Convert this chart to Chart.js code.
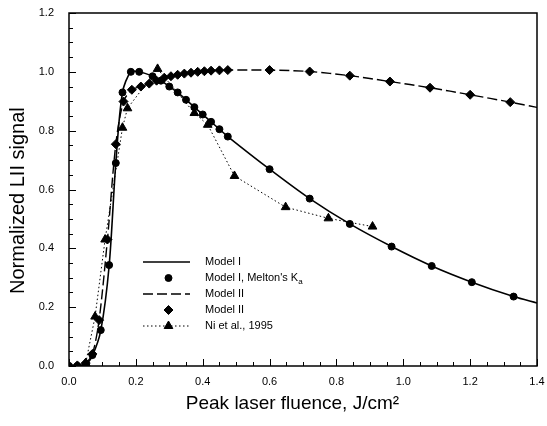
<!DOCTYPE html>
<html>
<head>
<meta charset="utf-8">
<script src="https://cdn.jsdelivr.net/npm/chart.js@4.4.1/dist/chart.umd.min.js"></script>
<style>
  html, body { margin: 0; padding: 0; background: #fff; }
  #wrap { width: 547px; height: 426px; }
</style>
</head>
<body>
<div id="wrap"><canvas id="myChart" width="547" height="426"></canvas></div>
<script>
// Model I (solid line)
const modelILineX = [0, 0.025, 0.05, 0.07, 0.095, 0.12, 0.14, 0.16, 0.185, 0.21, 0.25, 0.275, 0.30, 0.325, 0.35, 0.375, 0.40, 0.425, 0.45, 0.475, 0.60, 0.72, 0.84, 0.965, 1.085, 1.205, 1.33, 1.40];
const modelILineY = [0, 0, 0.005, 0.035, 0.12, 0.34, 0.69, 0.93, 1.0, 1.0, 0.985, 0.97, 0.95, 0.93, 0.905, 0.88, 0.855, 0.83, 0.805, 0.78, 0.669, 0.569, 0.483, 0.406, 0.34, 0.285, 0.236, 0.214];

// Model I, Melton's Ka (circles)
const meltonX = [0, 0.025, 0.05, 0.07, 0.095, 0.12, 0.14, 0.16, 0.185, 0.21, 0.25, 0.275, 0.30, 0.325, 0.35, 0.375, 0.40, 0.425, 0.45, 0.475, 0.60, 0.72, 0.84, 0.965, 1.085, 1.205, 1.33];
const meltonY = [0, 0, 0.005, 0.037, 0.122, 0.343, 0.69, 0.93, 1.0, 1.0, 0.985, 0.97, 0.95, 0.93, 0.905, 0.88, 0.855, 0.83, 0.805, 0.78, 0.669, 0.569, 0.483, 0.406, 0.34, 0.285, 0.236];

// Model II (dashed line)
const modelIILineX = [0, 0.025, 0.05, 0.07, 0.09, 0.115, 0.14, 0.163, 0.188, 0.215, 0.24, 0.262, 0.285, 0.305, 0.325, 0.345, 0.365, 0.385, 0.405, 0.425, 0.45, 0.475, 0.60, 0.72, 0.84, 0.96, 1.08, 1.20, 1.32, 1.40];
const modelIILineY = [0, 0.002, 0.01, 0.041, 0.156, 0.43, 0.754, 0.899, 0.939, 0.95, 0.96, 0.97, 0.98, 0.985, 0.99, 0.994, 0.997, 1.0, 1.002, 1.004, 1.005, 1.006, 1.006, 1.001, 0.987, 0.967, 0.946, 0.922, 0.897, 0.879];

// Model II (diamonds)
const diamondX = [0, 0.025, 0.05, 0.07, 0.09, 0.115, 0.14, 0.163, 0.188, 0.215, 0.24, 0.262, 0.285, 0.305, 0.325, 0.345, 0.365, 0.385, 0.405, 0.425, 0.45, 0.475, 0.60, 0.72, 0.84, 0.96, 1.08, 1.20, 1.32];
const diamondY = [0, 0.002, 0.01, 0.041, 0.156, 0.43, 0.754, 0.899, 0.939, 0.95, 0.96, 0.97, 0.98, 0.985, 0.99, 0.994, 0.997, 1.0, 1.002, 1.004, 1.005, 1.006, 1.006, 1.001, 0.987, 0.967, 0.946, 0.922, 0.897];

// Ni et al., 1995 (dotted + triangles)
const niX = [0.05, 0.078, 0.108, 0.16, 0.175, 0.265, 0.375, 0.415, 0.495, 0.648, 0.776, 0.908];
const niY = [0.01, 0.168, 0.43, 0.81, 0.876, 1.01, 0.86, 0.82, 0.646, 0.54, 0.502, 0.474];

const xTicks = [0, 0.2, 0.4, 0.6, 0.8, 1.0, 1.2, 1.4];
const yTicks = [0, 0.2, 0.4, 0.6, 0.8, 1.0, 1.2];

const legendLabels = ['Model I', "Model I, Melton's K", 'Model II', 'Model II', 'Ni et al., 1995'];

const FONT = "'Liberation Sans', Arial, Helvetica, sans-serif";
const NB = '\u00a0';

function pts(xs, ys) {
    return xs.map((x, i) => ({ x: x, y: ys[i] }));
}

// frame + inward ticks
const frame = {
    id: 'frame',
    afterDatasetsDraw(chart) {
        const ctx = chart.ctx;
        const a = chart.chartArea;
        const xs = chart.scales.x, ys = chart.scales.y;
        ctx.save();
        ctx.strokeStyle = '#000';
        ctx.lineWidth = 1.5;
        ctx.strokeRect(a.left, a.top, a.right - a.left, a.bottom - a.top);
        ctx.lineWidth = 1;
        ctx.beginPath();
        for (let v = 0; v <= 1.4001; v += 0.05) {
            const px = Math.round(xs.getPixelForValue(v)) + 0.5;
            const major = Math.abs(v / 0.2 - Math.round(v / 0.2)) < 1e-6;
            ctx.moveTo(px, a.bottom);
            ctx.lineTo(px, a.bottom - (major ? 7 : 4));
        }
        for (let v = 0; v <= 1.2001; v += 0.05) {
            const py = Math.round(ys.getPixelForValue(v)) + 0.5;
            const major = Math.abs(v / 0.2 - Math.round(v / 0.2)) < 1e-6;
            ctx.moveTo(a.left, py);
            ctx.lineTo(a.left + (major ? 7 : 4), py);
        }
        ctx.stroke();
        ctx.restore();
    }
};

// legend inside the plot
const legendBox = {
    id: 'legendBox',
    afterDraw(chart) {
        const ctx = chart.ctx;
        const x0 = 143, x1 = 190, tx = 205;
        const rows = [262, 278, 294, 310, 326];
        ctx.save();
        ctx.fillStyle = '#000';
        ctx.strokeStyle = '#000';
        ctx.font = '11px ' + FONT;
        ctx.textBaseline = 'middle';
        rows.forEach((y, i) => {
            const ds = chart.data.datasets[i];
            if (ds.showLine !== false) {
                ctx.save();
                ctx.lineWidth = ds.borderWidth;
                ctx.setLineDash(ds.borderDash || []);
                ctx.beginPath();
                ctx.moveTo(x0, y);
                ctx.lineTo(x1, y);
                ctx.stroke();
                ctx.restore();
            }
            if (ds.pointRadius > 0) {
                ctx.fillStyle = '#000';
                Chart.helpers.drawPoint(ctx, {
                    pointStyle: ds.pointStyle,
                    radius: ds.pointRadius,
                    rotation: 0,
                    borderWidth: 1
                }, (x0 + x1) / 2 + 2, y);
            }
            ctx.fillStyle = '#000';
            ctx.fillText(legendLabels[i], tx, y);
            if (i === 1) {
                const w = ctx.measureText(legendLabels[i]).width;
                ctx.font = '8px ' + FONT;
                ctx.fillText('a', tx + w, y + 4);
                ctx.font = '11px ' + FONT;
            }
        });
        ctx.restore();
    }
};

const ctx = document.getElementById('myChart').getContext('2d');
const chart = new Chart(ctx, {
    type: 'scatter',
    data: {
        datasets: [
            {
                label: legendLabels[0],
                data: pts(modelILineX, modelILineY),
                showLine: true,
                borderColor: '#000',
                borderWidth: 1.6,
                pointRadius: 0,
                tension: 0.3,
                order: 4
            },
            {
                label: legendLabels[1],
                data: pts(meltonX, meltonY),
                showLine: false,
                pointStyle: 'circle',
                pointRadius: 3.5,
                backgroundColor: '#000',
                borderColor: '#000',
                order: 2
            },
            {
                label: legendLabels[2],
                data: pts(modelIILineX, modelIILineY),
                showLine: true,
                borderColor: '#000',
                borderWidth: 1.4,
                borderDash: [10, 4],
                pointRadius: 0,
                tension: 0.3,
                order: 5
            },
            {
                label: legendLabels[3],
                data: pts(diamondX, diamondY),
                showLine: false,
                pointStyle: 'rectRot',
                pointRadius: 4.5,
                backgroundColor: '#000',
                borderColor: '#000',
                order: 1
            },
            {
                label: legendLabels[4],
                data: pts(niX, niY),
                showLine: true,
                borderColor: '#000',
                borderWidth: 1,
                borderDash: [1.5, 2.5],
                pointStyle: 'triangle',
                pointRadius: 5,
                backgroundColor: '#000',
                tension: 0,
                order: 3
            }
        ]
    },
    options: {
        responsive: false,
        animation: false,
        devicePixelRatio: 1,
        layout: { padding: { top: 13, right: 10, left: 0, bottom: 0 } },
        plugins: {
            legend: { display: false },
            tooltip: { enabled: false }
        },
        scales: {
            x: {
                type: 'linear',
                min: 0,
                max: 1.4,
                afterFit(scale) {
                    scale.height = 60;
                    scale.paddingLeft = 0;
                    scale.paddingRight = 0;
                },
                afterBuildTicks(scale) { scale.ticks = xTicks.map(v => ({ value: v })); },
                grid: { display: false, drawTicks: false },
                border: { display: false },
                ticks: {
                    padding: 9,
                    color: '#000',
                    font: { family: FONT, size: 11 },
                    maxRotation: 0,
                    callback: v => v.toFixed(1)
                },
                title: {
                    display: true,
                    text: 'Peak laser fluence, J/cm²' + NB.repeat(4),
                    color: '#000',
                    font: { family: FONT, size: 19 },
                    padding: { top: 0, bottom: 11 }
                }
            },
            y: {
                type: 'linear',
                min: 0,
                max: 1.2,
                afterFit(scale) {
                    scale.width = 69;
                    scale.paddingTop = 0;
                    scale.paddingBottom = 0;
                },
                afterBuildTicks(scale) { scale.ticks = yTicks.map(v => ({ value: v })); },
                grid: { display: false, drawTicks: false },
                border: { display: false },
                ticks: {
                    padding: 15,
                    color: '#000',
                    font: { family: FONT, size: 11 },
                    callback: v => v.toFixed(1)
                },
                title: {
                    display: true,
                    text: 'Normalized LII signal' + NB.repeat(4),
                    color: '#000',
                    font: { family: FONT, size: 20 },
                    padding: { top: 6, bottom: 0 }
                }
            }
        }
    },
    plugins: [frame, legendBox]
});
</script>
</body>
</html>
